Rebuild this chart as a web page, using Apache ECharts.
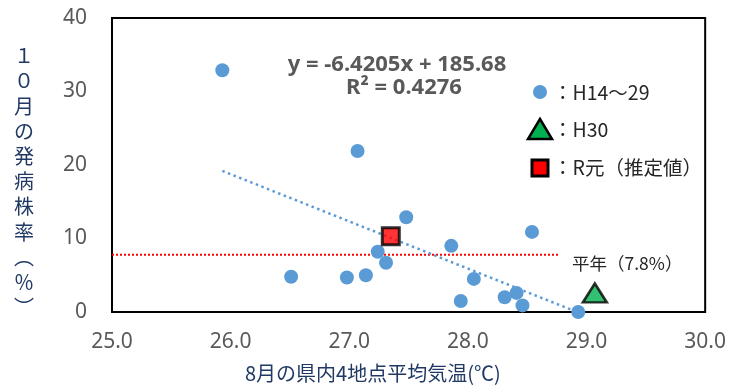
<!DOCTYPE html>
<html>
<head>
<meta charset="utf-8">
<script src="https://cdn.jsdelivr.net/npm/echarts@6/dist/echarts.min.js"></script>
<style>
html,body{margin:0;padding:0;background:#fff;}
#chart{width:729px;height:389px;}
</style>
</head>
<body>
<div id="chart"></div>
<script>
// August mean temperature (°C) of four stations vs. October disease incidence (%)
const tempH14to29 = [25.93, 27.07, 26.51, 26.98, 27.14, 27.24, 27.31, 27.48, 27.86, 28.05, 27.94, 28.31, 28.41, 28.46, 28.54, 28.93];
const rateH14to29 = [32.9, 21.9, 4.8, 4.7, 5.0, 8.2, 6.7, 12.9, 9.0, 4.5, 1.5, 2.0, 2.6, 0.9, 10.9, 0.0];
const tempH30 = [29.07];
const rateH30 = [2.6];
const tempR1 = [27.35];
const rateR1 = [10.3];

// linear trend of H14–29
const trendSlope = -6.4205;
const trendIntercept = 185.68;
const trendR2 = 0.4276;

// normal-year incidence
const normalRate = 7.8;
const normalRange = [25.0, 28.76];

const xTicks = [25.0, 26.0, 27.0, 28.0, 29.0, 30.0];
const yTicks = [0, 10, 20, 30, 40];

const xMin = Math.min(...tempH14to29), xMax = Math.max(...tempH14to29);
const trendData = [xMin, xMax].map(x => [x, trendSlope * x + trendIntercept]);

const BLUE = '#5B9BD5';
const GRAY = '#595959';
const NAVY = '#1F3864';
const CJK = '"Noto Sans CJK JP", "Noto Sans", sans-serif';

const chart = echarts.init(document.getElementById('chart'), null, {renderer: 'canvas'});

const yTitle = ['１', '０', '月', 'の', '発', '病', '株', '率', '︵', '％', '︶'];

chart.setOption({
  animation: false,
  grid: {left: 112, right: 19, top: 18, bottom: 77, show: true, borderColor: '#000', borderWidth: 2, backgroundColor: 'transparent'},
  xAxis: {
    type: 'value', min: xTicks[0], max: xTicks[xTicks.length - 1], interval: 1,
    axisLine: {show: false}, axisTick: {show: false}, splitLine: {show: false},
    axisLabel: {color: GRAY, fontSize: 21, fontFamily: '"Noto Sans", sans-serif', margin: 20,
      formatter: v => v.toFixed(1)}
  },
  yAxis: {
    type: 'value', min: yTicks[0], max: yTicks[yTicks.length - 1], interval: 10,
    axisLine: {show: false}, axisTick: {show: false}, splitLine: {show: false},
    axisLabel: {color: GRAY, fontSize: 21, fontFamily: '"Noto Sans", sans-serif', margin: 25}
  },
  series: [
    {
      type: 'line', data: [[normalRange[0], normalRate], [normalRange[1], normalRate]],
      symbol: 'none', lineStyle: {color: '#FF0000', width: 2, type: [2, 2]}, z: 1, silent: true
    },
    {
      type: 'line', data: trendData,
      symbol: 'none', lineStyle: {color: BLUE, width: 2.5, type: [2.5, 3.5]}, z: 2, silent: true
    },
    {
      name: 'H14～29', type: 'scatter', data: tempH14to29.map((x, i) => [x, rateH14to29[i]]),
      symbol: 'circle', symbolSize: 14, itemStyle: {color: BLUE, opacity: 1}, z: 3
    },
    {
      name: 'R元（推定値）', type: 'scatter', data: tempR1.map((x, i) => [x, rateR1[i]]),
      symbol: 'rect', symbolSize: 17, itemStyle: {color: '#FF0000', borderColor: '#000', borderWidth: 3}, z: 4
    },
    {
      name: 'H30', type: 'scatter', data: tempH30.map((x, i) => [x, rateH30[i]]),
      symbol: 'triangle', symbolSize: [24, 19], itemStyle: {color: '#00B050', borderColor: '#000', borderWidth: 2.5}, z: 4
    }
  ],
  graphic: [
    // trend equation
    {type: 'text', style: {x: 397, y: 65, text: 'y = ' + trendSlope + 'x + ' + trendIntercept, align: 'center', verticalAlign: 'middle',
      fill: GRAY, font: 'bold 22px "Noto Sans", sans-serif'}},
    {type: 'text', style: {x: 404, y: 88, text: 'R² = ' + trendR2, align: 'center', verticalAlign: 'middle',
      fill: GRAY, font: 'bold 22px "Noto Sans", sans-serif'}},
    // legend markers
    {type: 'circle', shape: {cx: 540, cy: 92, r: 7}, style: {fill: BLUE}},
    {type: 'polygon', shape: {points: [[540, 119], [552, 139], [528, 139]]}, style: {fill: '#00B050', stroke: '#000', lineWidth: 2.5, lineJoin: 'miter'}},
    {type: 'rect', shape: {x: 532, y: 160, width: 16, height: 16}, style: {fill: '#FF0000', stroke: '#000', lineWidth: 3}},
    // legend labels
    {type: 'text', style: {x: 553, y: 93, text: '：H14～29', verticalAlign: 'middle', fill: '#262626', font: '19.5px ' + CJK}},
    {type: 'text', style: {x: 553, y: 130, text: '：H30', verticalAlign: 'middle', fill: '#262626', font: '19.5px ' + CJK}},
    {type: 'text', style: {x: 553, y: 168, text: '：R元（推定値）', verticalAlign: 'middle', fill: '#262626', font: '19.5px ' + CJK}},
    // normal-year label
    {type: 'text', style: {x: 572, y: 263, text: '平年（7.8%）', verticalAlign: 'middle', fill: '#262626', font: '17.5px ' + CJK}},
    // axis titles
    {type: 'text', style: {x: 245, y: 373, text: '8月の県内4地点平均気温(℃)', verticalAlign: 'middle', fill: NAVY, font: '20px ' + CJK}},
    {type: 'text', style: {x: 24, y: 43, text: yTitle.join('\n'), align: 'center', verticalAlign: 'top', lineHeight: 25.2, fill: NAVY, font: '20px ' + CJK}}
  ]
});
</script>
</body>
</html>
